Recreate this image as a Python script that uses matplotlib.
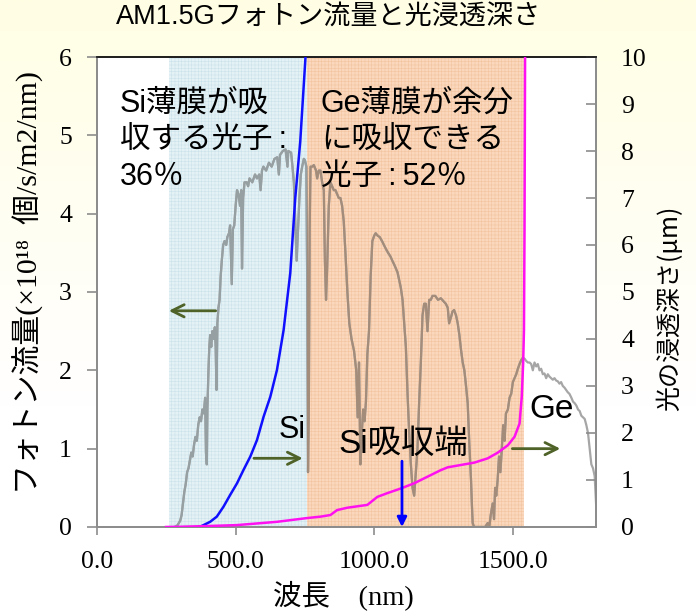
import numpy as np
import matplotlib
matplotlib.use("Agg")
import matplotlib.pyplot as plt
from matplotlib.colors import LinearSegmentedColormap
from matplotlib.patches import Rectangle
from matplotlib.ticker import FixedLocator, FormatStrFormatter

CJK = "Noto Sans CJK JP"
SANS = ["Liberation Sans", CJK]
SERIF = ["Liberation Serif", "DejaVu Serif", CJK]
plt.rcParams["hatch.linewidth"] = 0.4

# AM1.5G photon flux (x1e18 photons / s / m2 / nm)
wavelength = [
    280, 290, 300, 305, 310, 315, 320, 325, 330, 335, 340, 345, 350, 355, 360, 365,
    370, 375, 380, 385, 390, 393, 396, 398, 402, 405, 408, 412, 416, 420, 425, 428,
    431, 434, 438, 442, 446, 450, 455, 460, 466, 470, 476, 480, 486, 490, 495, 500,
    505, 510, 516, 520, 523, 527, 532, 540, 545, 550, 560, 570, 577, 585, 590, 595,
    600, 610, 620, 630, 640, 650, 656, 660, 670, 680, 687, 690, 700, 705, 710, 715,
    720, 725, 730, 735, 740, 746, 750, 755, 758, 761, 764, 767, 770, 776, 782, 790,
    794, 800, 806, 812, 818, 822, 826, 830, 836, 842, 848, 854, 860, 866, 872, 878,
    884, 890, 896, 903, 910, 918, 927, 935, 940, 945, 950, 955, 960, 965, 970, 975,
    981, 987, 993, 1000, 1005, 1012, 1020, 1028, 1035, 1042, 1050, 1059, 1065, 1072,
    1078, 1084, 1090, 1096, 1102, 1108, 1114, 1120, 1126, 1132, 1138, 1144, 1150,
    1156, 1162, 1168, 1174, 1180, 1186, 1192, 1198, 1204, 1210, 1220, 1230, 1240,
    1250, 1258, 1265, 1270, 1277, 1282, 1288, 1295, 1301, 1307, 1313, 1319, 1325,
    1331, 1337, 1343, 1349, 1352, 1355, 1360, 1400, 1409, 1415, 1420, 1427, 1432,
    1436, 1440, 1445, 1450, 1455, 1460, 1465, 1470, 1475, 1482, 1488, 1494, 1500,
    1506, 1512, 1518, 1524, 1530, 1536, 1542, 1548, 1554, 1560, 1566, 1572, 1578,
    1584, 1590, 1596, 1602, 1608, 1614, 1620, 1626, 1632, 1638, 1644, 1650, 1656,
    1662, 1668, 1674, 1680, 1686, 1692, 1698, 1704, 1711, 1717, 1723, 1729, 1735,
    1741, 1747, 1753, 1759, 1765, 1771, 1777, 1783, 1789, 1795, 1800,
]
photon_flux = [
    0.0, 0.02, 0.08, 0.15, 0.3, 0.45, 0.55, 0.7, 0.75, 0.85, 0.95, 0.9, 1.05, 1.15, 1.1, 1.3,
    1.4, 1.35, 1.5, 1.45, 1.65, 0.95, 0.8, 1.5, 2.0, 2.3, 2.45, 2.3, 2.5, 2.4, 2.55, 2.3,
    1.75, 2.6, 2.8, 2.9, 3.2, 3.4, 3.6, 3.65, 3.6, 3.7, 3.75, 3.85, 3.1, 3.8, 3.85, 4.1,
    4.3, 4.25, 4.1, 4.3, 3.3, 4.2, 4.4, 4.4, 4.35, 4.45, 4.4, 4.5, 4.45, 4.5, 4.3, 4.55,
    4.6, 4.55, 4.65, 4.6, 4.7, 4.72, 4.5, 4.75, 4.8, 4.82, 4.6, 4.8, 4.78, 4.6, 4.4, 3.9,
    3.4, 3.8, 4.2, 4.5, 4.6, 4.7, 4.68, 4.6, 3.2, 0.7, 1.5, 3.8, 4.6, 4.6, 4.62, 4.55,
    4.45, 4.55, 4.55, 4.4, 4.3, 3.4, 2.9, 3.3, 4.1, 4.4, 4.35, 4.3, 4.3, 4.25, 4.2, 4.2,
    4.1, 3.9, 3.5, 3.0, 2.6, 2.4, 2.25, 2.0, 1.4, 2.1, 0.8, 1.2, 1.5, 1.35, 1.6, 2.2,
    2.5, 3.2, 3.65, 3.72, 3.75, 3.72, 3.7, 3.65, 3.6, 3.55, 3.5, 3.45, 3.4, 3.35,
    3.3, 3.25, 3.15, 3.05, 2.9, 2.6, 2.3, 1.7, 1.2, 0.8, 0.5, 0.4, 0.7,
    1.0, 1.6, 2.1, 2.7, 2.85, 2.85, 2.5, 2.9, 2.9, 2.95, 2.95, 2.9, 2.92,
    2.88, 2.85, 2.8, 2.6, 2.68, 2.75, 2.77, 2.7, 2.6, 2.45, 2.26, 2.1, 2.0,
    1.8, 1.58, 1.05, 0.6, 0.3, 0.05, 0.0, 0.0, 0.05, 0.0, 0.15, 0.3, 0.1,
    0.5, 0.4, 0.6, 0.9, 0.7, 1.0, 1.3, 1.1, 1.45, 1.5, 1.65, 1.7, 1.85,
    1.9, 1.95, 2.02, 2.08, 2.13, 2.16, 2.15, 2.12, 2.1, 2.1, 2.08, 2.0, 2.1,
    2.05, 2.08, 2.0, 2.02, 1.95, 1.96, 1.9, 1.95, 1.92, 1.9, 1.88, 1.9, 1.87,
    1.86, 1.83, 1.85, 1.8, 1.78, 1.75, 1.72, 1.7, 1.65, 1.6, 1.58, 1.55, 1.5,
    1.48, 1.42, 1.4, 1.38, 1.3, 1.2, 1.0, 0.8, 0.75, 0.65, 0.3,
]

# Penetration depth of light (um)
si_wavelength = [370, 384, 408, 432, 456, 480, 505, 528, 553, 577, 601, 625, 649, 673,
                 697, 715, 733, 752]
si_depth = [0.0, 0.04, 0.11, 0.22, 0.43, 0.68, 0.93, 1.21, 1.5, 1.85, 2.35, 2.77, 3.34,
            4.19, 5.4, 7.0, 8.2, 10.0]

ge_wavelength = [249, 300, 400, 504, 649, 758, 806, 842, 866, 903, 975, 1011, 1047, 1096,
                 1144, 1192, 1240, 1265, 1313, 1361, 1409, 1445, 1482, 1506, 1524, 1532,
                 1537, 1540, 1542, 1544]
ge_depth = [0.0, 0.005, 0.02, 0.04, 0.11, 0.19, 0.22, 0.255, 0.36, 0.41, 0.47, 0.64, 0.72,
            0.82, 0.93, 1.07, 1.21, 1.27, 1.32, 1.37, 1.46, 1.58, 1.74, 1.92, 2.2, 2.77,
            3.48, 4.19, 6.32, 10.0]

si_band = (260, 758)
ge_band = (758, 1540)
si_edge = 1100

x_ticks = [0, 500, 1000, 1500]
y_ticks = [0, 1, 2, 3, 4, 5, 6]
y2_ticks = [0, 1, 2, 3, 4, 5, 6, 7, 8, 9, 10]

fig = plt.figure(figsize=(6.96, 6.11), dpi=100)

# cream-to-white page background
bg = fig.add_axes([0, 0, 1, 1], zorder=-10)
bg_cmap = LinearSegmentedColormap.from_list("page", ["#fffee4", "#ffffff"])
ramp = np.concatenate([np.linspace(0, 1, 200), np.ones(100)])[:, None]
bg.imshow(ramp, cmap=bg_cmap, aspect="auto", extent=[0, 1, 0, 1], vmin=0, vmax=1)
bg.set_axis_off()

ax = fig.add_axes([0.1394, 0.1375, 0.717, 0.7692])
ax.set_facecolor("white")
ax.set_xlim(0, 1800)
ax.set_ylim(0, 6)

# absorption bands
ax.axvspan(*si_band, facecolor="#e4f2f6", edgecolor="#cbe2ea", hatch="+++++",
           linewidth=0, zorder=1)
ax.axvspan(*ge_band, facecolor="#fbd8bd", edgecolor="#f2c4a0", hatch="+++++",
           linewidth=0, zorder=1)

# solar spectrum; the parts lying over the bands take on the band tint
ax.plot(wavelength, photon_flux, color="#a6a6a6", lw=1.6, zorder=2)
for (x0, x1), tint in ((si_band, "#969fa2"), (ge_band, "#a48c7a")):
    seg, = ax.plot(wavelength, photon_flux, color=tint, lw=1.6, zorder=2.1)
    seg.set_clip_path(Rectangle((x0, 0), x1 - x0, 6, transform=ax.transData))

ax2 = ax.twinx()
ax2.set_ylim(0, 10)
ax2.plot(si_wavelength, si_depth, color="#1010ff", lw=1.8, zorder=3)
ax2.plot(ge_wavelength, ge_depth, color="#ff10f0", lw=1.8, zorder=3)

# axes styling
for a in (ax, ax2):
    for side in ("left", "right", "bottom"):
        a.spines[side].set_color("#8c8c8c")
        a.spines[side].set_linewidth(1.3)
    a.spines["top"].set_color("#202020")
    a.spines["top"].set_linewidth(1.3)

ax.xaxis.set_major_locator(FixedLocator(x_ticks))
ax.xaxis.set_major_formatter(FormatStrFormatter("%.1f"))
ax.yaxis.set_major_locator(FixedLocator(y_ticks))
ax2.yaxis.set_major_locator(FixedLocator(y2_ticks))
ax.tick_params(axis="x", direction="out", length=6, width=1.2, color="#8c8c8c", pad=11)
ax.tick_params(axis="y", direction="out", length=7, width=1.2, color="#8c8c8c", pad=11)
ax2.tick_params(axis="y", direction="in", length=7, width=1.2, color="#8c8c8c", pad=18)
for lbl in ax.get_xticklabels() + ax.get_yticklabels() + ax2.get_yticklabels():
    lbl.set_family(SERIF)
    lbl.set_fontsize(18.5)

# axis titles
fig.text(28 / 696, 1 - 283 / 611, "フォトン流量(×10¹⁸  個/s/m2/nm)", rotation=90,
         ha="center", va="center", family=SERIF, fontsize=21.5)
fig.text(670 / 696, 1 - 308 / 611, "光の浸透深さ(μm)", rotation=90,
         ha="center", va="center", family=[CJK], fontsize=18)
fig.text(343 / 696, 1 - 595 / 611, "波長\u3000(nm)", ha="center", va="center",
         family=SERIF, fontsize=20.5)
fig.text(329 / 696, 1 - 18 / 611, "AM1.5Gフォトン流量と光浸透深さ", ha="center",
         va="center", family=SANS, fontsize=19.5)

# annotations
block1 = ["Si薄膜が吸", "収する光子\u2009:", "36％"]
block2 = ["Ge薄膜が余分", "に吸収できる", "光子\u2009:\u200952％"]
for i, line in enumerate(block1):
    ax.text(82, 5.298 - i * 0.466, line, family=SANS, fontsize=22, va="baseline",
            zorder=5)
for i, line in enumerate(block2):
    ax.text(807, 5.298 - i * 0.466, line, family=SANS, fontsize=22, va="baseline",
            zorder=5)

ax2.text(654, 1.136 * 10 / 6, "Si", family=SANS, fontsize=22, va="baseline", zorder=5)
ax2.text(871, 0.945 * 10 / 6, "Si吸収端", family=SANS, fontsize=24, va="baseline", zorder=5)
ax2.text(1559, 1.39 * 10 / 6, "Ge", family=SANS, fontsize=24, va="baseline", zorder=5)

green = "#4f6228"
arrow_kw = dict(arrowstyle="->", color=green, lw=2, mutation_scale=22)
ax2.annotate("", xy=(249, 2.76 * 10 / 6), xytext=(438, 2.76 * 10 / 6), arrowprops=arrow_kw)
ax2.annotate("", xy=(752, 0.877 * 10 / 6), xytext=(556, 0.877 * 10 / 6), arrowprops=arrow_kw)
ax2.annotate("", xy=(1681, 1.0 * 10 / 6), xytext=(1488, 1.0 * 10 / 6), arrowprops=arrow_kw)
ax2.annotate("", xy=(si_edge, 0.0), xytext=(si_edge, 1.4),
             arrowprops=dict(arrowstyle="-|>", color="#0000ff", lw=2, mutation_scale=14,
                             shrinkA=0, shrinkB=0))

fig.savefig("out.png", dpi=100)
